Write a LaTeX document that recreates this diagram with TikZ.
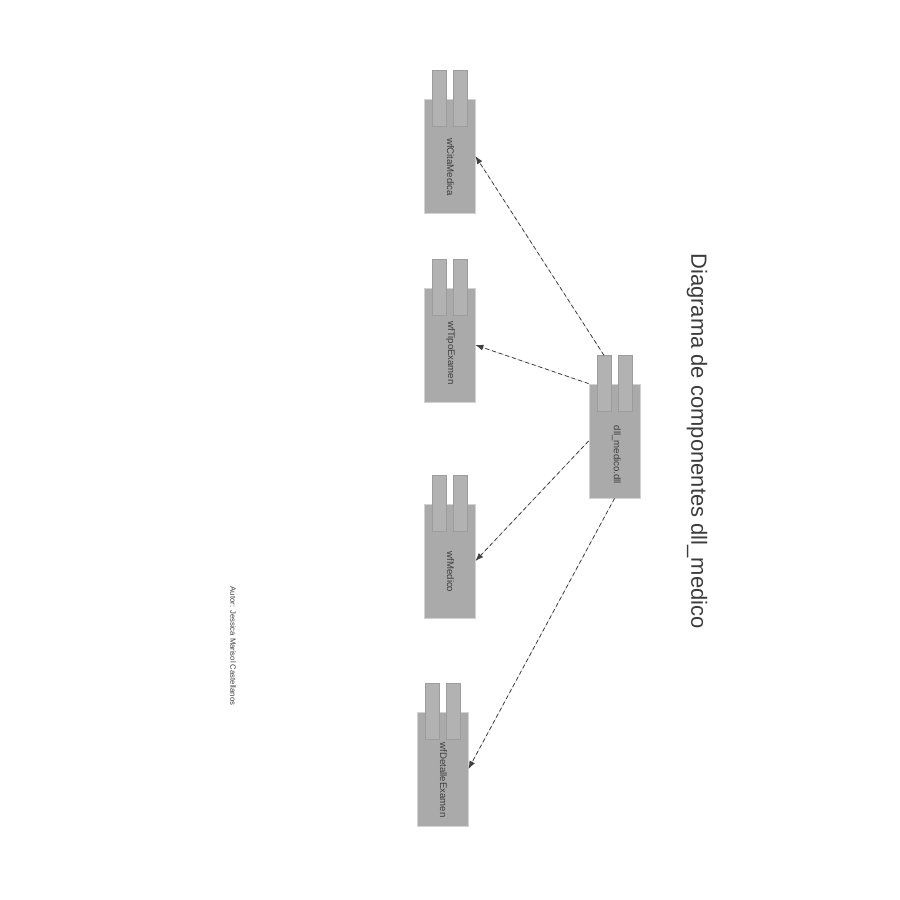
\documentclass[tikz,border=0pt]{standalone}
\usepackage{fontspec}
\setmainfont{Liberation Sans}
\usepackage{tikz}
\usetikzlibrary{calc}
\usetikzlibrary{positioning}
\usetikzlibrary{arrows.meta}
\definecolor{compfill}{RGB}{170,170,170}
\definecolor{tabfill}{RGB}{178,178,178}
\definecolor{compline}{RGB}{210,210,210}
\definecolor{tabline}{RGB}{156,156,156}
\definecolor{txtgray}{RGB}{60,60,60}

\begin{document}
\begin{tikzpicture}[x=1pt,y=-1pt,
comp/.style={minimum width=51pt, minimum height=114pt, inner sep=0pt, fill=compfill, draw=compline, line width=0.8pt},
tab/.style={minimum width=14pt, minimum height=56pt, inner sep=0pt, fill=tabfill, draw=tabline, line width=0.5pt},
lbl/.style={rotate=-90, inner sep=0pt, text=txtgray, font=\fontsize{9.6}{11}\selectfont},
dep/.style={-{Latex[length=8pt,width=6pt]}, dash pattern=on 4pt off 3pt, line width=0.8pt, draw=black!75, fill=black!80}]
\useasboundingbox (0,0) rectangle (900,900);
\node (cita) at (449.5,156) [comp] {};
\node (tipo) at (449.5,345) [comp] {};
\node (medico) at (449.5,561) [comp] {};
\node (detalle) at (442.5,769) [comp] {};
\node (dll) at (614.5,441) [comp] {};
\foreach \c in {cita,tipo,medico,detalle,dll} {
  \node (\c-t1) at ($(\c.north)+(-10.5,0)$) [tab] {};
  \node (\c-t2) at ($(\c.north)+(10.5,0)$) [tab] {};
}
\node (cita-l) at ($(cita)+(1,11)$) [lbl] {wfCitaMedica};
\node (tipo-l) at ($(tipo)+(1,8)$) [lbl] {wfTipoExamen};
\node (medico-l) at ($(medico)+(1,11)$) [lbl] {wfMedico};
\node (detalle-l) at ($(detalle)+(1,11)$) [lbl] {wfDetalleExamen};
\node (dll-l) at ($(dll)+(2,14)$) [lbl] {dll\_medico.dll};
\node (title) at (697,441) [rotate=-90, text=txtgray, font=\fontsize{22}{26}\selectfont] {Diagrama de componentes dll\_medico};
\node (autor) at (233,646) [rotate=-90, text=txtgray, font=\fontsize{7.7}{9}\selectfont] {Autor: Jessica Marisol Castellanos};
\draw[dep] (dll-t1.north) -- (cita.east);
\draw[dep] (dll.north west) -- (tipo.east);
\draw[dep] (dll.west) -- (medico.east);
\draw[dep] (dll.south) -- (detalle.east);
\end{tikzpicture}
\end{document}
